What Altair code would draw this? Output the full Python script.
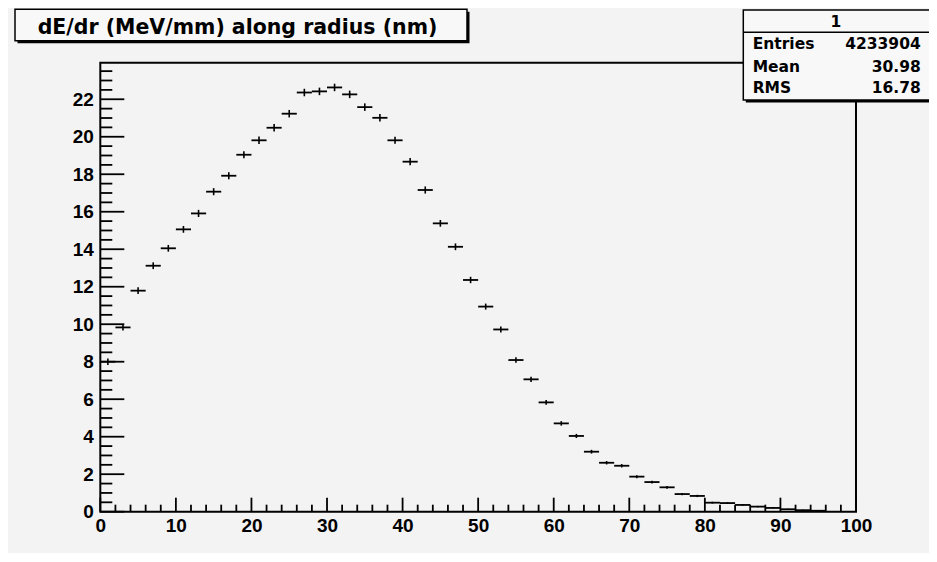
import altair as alt
import pandas as pd

# ---- data ----
bin_centers = [1, 3, 5, 7, 9, 11, 13, 15, 17, 19, 21, 23, 25, 27, 29, 31, 33, 35, 37, 39,
               41, 43, 45, 47, 49, 51, 53, 55, 57, 59, 61, 63, 65, 67, 69, 71, 73, 75, 77, 79,
               81, 83, 85, 87, 89, 91, 93, 95, 97, 99]
values = [8.00, 9.83, 11.79, 13.12, 14.05, 15.06, 15.91, 17.07, 17.92, 19.04,
          19.81, 20.48, 21.23, 22.36, 22.42, 22.63, 22.26, 21.58, 21.01, 19.81,
          18.67, 17.16, 15.38, 14.13, 12.36, 10.94, 9.72, 8.09, 7.06, 5.83,
          4.71, 4.04, 3.20, 2.61, 2.45, 1.87, 1.58, 1.30, 0.94, 0.84,
          0.48, 0.46, 0.36, 0.27, 0.20, 0.13, 0.08, 0.05, 0.0, 0.0]
errors = [0.17, 0.17, 0.18, 0.18, 0.18, 0.18, 0.19, 0.19, 0.19, 0.19,
          0.20, 0.20, 0.20, 0.20, 0.20, 0.20, 0.20, 0.20, 0.20, 0.19,
          0.19, 0.19, 0.18, 0.18, 0.17, 0.16, 0.16, 0.15, 0.14, 0.13,
          0.12, 0.11, 0.10, 0.09, 0.09, 0.08, 0.07, 0.07, 0.06, 0.06,
          0.05, 0.05, 0.04, 0.04, 0.03, 0.03, 0.02, 0.02, 0.0, 0.0]
bin_half_width = 1

x_major = [0, 10, 20, 30, 40, 50, 60, 70, 80, 90, 100]
x_minor = [v for v in range(0, 101, 2) if v % 10 != 0]
y_major = [0, 2, 4, 6, 8, 10, 12, 14, 16, 18, 20, 22]
y_minor = [k * 0.5 for k in range(48) if (k * 0.5) % 2 != 0]

title_text = "dE/dr (MeV/mm) along radius (nm)"
stat_header = "1"
stat_labels = ["Entries", "Mean", "RMS"]
stat_values = ["4233904", "30.98", "16.78"]

# ---- layout ----
W, H = 755.7, 449
xs = alt.Scale(domain=[0, 100], nice=False)
ys = alt.Scale(domain=[0, 23.95], nice=False)
LABEL_FONT = "Liberation Sans"

x_axis = alt.Axis(
    values=x_major, title="", ticks=False, tickSize=0, domain=False, grid=False,
    labelFont=LABEL_FONT, labelFontSize=19, labelFontWeight="bold", labelColor="black",
    labelPadding=5, labelFlush=False, labelOverlap=False, format="d")
y_axis = alt.Axis(
    values=y_major, title="", ticks=False, tickSize=0, domain=False, grid=False,
    labelFont=LABEL_FONT, labelFontSize=19, labelFontWeight="bold", labelColor="black",
    labelPadding=7, labelFlush=False, labelOverlap=False, format="d")

df = pd.DataFrame({"x": bin_centers, "y": values, "err": errors})
base = alt.Chart(df).transform_filter("datum.y > 0")

hbar = base.mark_rule(color="black", strokeWidth=1.8).transform_calculate(
    x0=f"datum.x - {bin_half_width}", x1=f"datum.x + {bin_half_width}"
).encode(
    x=alt.X("x0:Q", scale=xs, axis=x_axis),
    x2="x1:Q",
    y=alt.Y("y:Q", scale=ys, axis=y_axis),
)

vbar = base.mark_rule(color="black", strokeWidth=1.6).transform_calculate(
    ylo="datum.y - datum.err", yhi="datum.y + datum.err"
).encode(
    x=alt.X("x:Q", scale=xs, axis=x_axis),
    y=alt.Y("ylo:Q", scale=ys, axis=y_axis),
    y2="yhi:Q",
)

def xticks(vals, length):
    return alt.Chart(pd.DataFrame({"v": vals})).mark_rule(color="black", strokeWidth=1.8).encode(
        x=alt.X("v:Q", scale=xs, axis=x_axis),
        y=alt.value(H), y2=alt.value(H - length))

def yticks(vals, length):
    return alt.Chart(pd.DataFrame({"v": vals})).mark_rule(color="black", strokeWidth=1.8).encode(
        y=alt.Y("v:Q", scale=ys, axis=y_axis),
        x=alt.value(0), x2=alt.value(length))

decor_df = pd.DataFrame({"a": [0]})

def box(x0, x1, y0, y1, fill):
    sh = 2.5
    shadow = alt.Chart(decor_df).mark_rect(color="black").encode(
        x=alt.value(x0 + sh), x2=alt.value(x1 + sh), y=alt.value(y0 + sh), y2=alt.value(y1 + sh))
    main = alt.Chart(decor_df).mark_rect(fill=fill, stroke="black", strokeWidth=1.5).encode(
        x=alt.value(x0), x2=alt.value(x1), y=alt.value(y0), y2=alt.value(y1))
    return [shadow, main]

def text(s, x, y, font, size, align):
    return alt.Chart(decor_df).mark_text(
        font=font, fontSize=size, fontWeight="bold", align=align,
        baseline="alphabetic", color="black").encode(
        x=alt.value(x), y=alt.value(y), text=alt.value(s))

layers = [hbar, vbar,
          xticks(x_major, 14), xticks(x_minor, 7),
          yticks(y_major, 24), yticks(y_minor, 12)]

# title box
layers += box(-85.3, 366.7, -53.4, -22.0, "#f8f8f8")
layers.append(text(title_text, 137.2, -28.4, "DejaVu Sans", 20.5, "center"))

# stats box
layers += box(643.0, 832.0, -52.7, 37.3, "#f8f8f8")
layers.append(alt.Chart(decor_df).mark_rule(color="black", strokeWidth=1.5).encode(
    x=alt.value(643.0), x2=alt.value(832.0), y=alt.value(-30.4)))
layers.append(text(stat_header, 735.7, -35.4, "DejaVu Sans", 15.5, "center"))
row_y = [-13.4, 9.6, 30.8]
for lab, val, yy in zip(stat_labels, stat_values, row_y):
    layers.append(text(lab, 652.4, yy, "DejaVu Sans", 15.5, "left"))
    layers.append(text(val, 820.4, yy, "DejaVu Sans", 15.5, "right"))

chart = alt.layer(*layers).properties(
    width=W, height=H,
    background="#f3f3f3",
    padding={"left": 92.3, "top": 54.7, "right": 72.5, "bottom": 41.5},
    autosize=alt.AutoSizeParams(type="none"),
).configure_view(stroke="black", strokeWidth=2)

chart.save("out.html", embed_options={"renderer": "svg", "actions": False})
